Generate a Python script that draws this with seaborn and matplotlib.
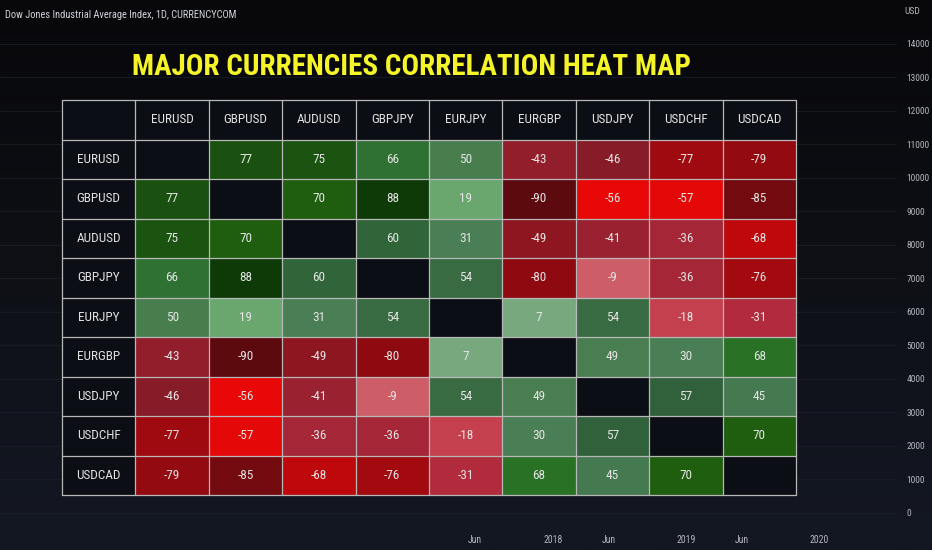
import numpy as np
import pandas as pd
import seaborn as sns
import matplotlib.pyplot as plt
from matplotlib import font_manager
from matplotlib.colors import LinearSegmentedColormap

# Currency pairs, same order for rows and columns
pairs = ['EURUSD', 'GBPUSD', 'AUDUSD', 'GBPJPY', 'EURJPY', 'EURGBP', 'USDJPY', 'USDCHF', 'USDCAD']

# Correlation values (diagonal left empty)
corr_rows = [
    [np.nan, 77, 75, 66, 50, -43, -46, -77, -79],
    [77, np.nan, 70, 88, 19, -90, -56, -57, -85],
    [75, 70, np.nan, 60, 31, -49, -41, -36, -68],
    [66, 88, 60, np.nan, 54, -80, -9, -36, -76],
    [50, 19, 31, 54, np.nan, 7, 54, -18, -31],
    [-43, -90, -49, -80, 7, np.nan, 49, 30, 68],
    [-46, -56, -41, -9, 54, 49, np.nan, 57, 45],
    [-77, -57, -36, -36, -18, 30, 57, np.nan, 70],
    [-79, -85, -68, -76, -31, 68, 45, 70, np.nan],
]

# Background price chart axis
price_ticks = list(range(0, 15000, 1000))
time_ticks = [0, 7, 12, 19, 24, 31]  # months counted from Jun 2017
time_labels = ['Jun', '2018', 'Jun', '2019', 'Jun', '2020']

chart_name = 'Dow Jones Industrial Average Index, 1D, CURRENCYCOM'
title = 'MAJOR CURRENCIES CORRELATION HEAT MAP'

sns.set_theme(style='dark')
available = {f.name for f in font_manager.fontManager.ttflist}
candidates = ['Liberation Sans Narrow', 'Roboto Condensed', 'Open Sans Condensed',
              'Noto Sans Condensed', 'Roboto', 'DejaVu Sans']
narrow = next(c for c in candidates if c in available or c == 'DejaVu Sans')
plt.rcParams['font.family'] = [narrow, 'DejaVu Sans']

fig = plt.figure(figsize=(9.32, 5.5), dpi=100)
fig.patch.set_facecolor('#131722')

# dark vertical gradient behind everything
ax_grad = fig.add_axes([0, 0, 1, 1], zorder=-2)
ax_grad.imshow(np.linspace(0, 1, 200).reshape(-1, 1), aspect='auto',
               cmap=LinearSegmentedColormap.from_list('bg', ['#08080b', '#0e1016', '#141823']))
ax_grad.axis('off')

# price pane with right hand axis and time axis
ax_bg = fig.add_axes([0, 1 - 528 / 550, 897 / 932, 528 / 550], zorder=-1)
ax_bg.set_facecolor('none')
ax_bg.set_ylim(-448, 15313)
ax_bg.set_xlim(-42.8, 38.0)
ax_bg.yaxis.tick_right()
ax_bg.set_yticks(price_ticks)
ax_bg.set_yticklabels([str(t) for t in price_ticks])
ax_bg.set_xticks(time_ticks)
ax_bg.set_xticklabels(time_labels)
ax_bg.tick_params(axis='y', length=0, pad=7, labelcolor='#b2b5be', labelsize=6.8)
ax_bg.tick_params(axis='x', length=0, pad=5, labelcolor='#b2b5be', labelsize=7)
ax_bg.grid(False)
for t in price_ticks:
    ax_bg.axhline(t, color='#1a1d27', lw=0.6, zorder=0)
for s in ax_bg.spines.values():
    s.set_visible(False)

fig.text(904 / 932, 1 - 12 / 550, 'USD', color='#b2b5be', fontsize=6.8, va='center', ha='left')
fig.text(5 / 932, 1 - 15 / 550, chart_name, color='#d1d4dc', fontsize=7.5, va='center', ha='left')

# colour ramp: dark red -> bright red -> pink | light green -> dark green
cmap = LinearSegmentedColormap.from_list('corr', [
    (0.00, '#4a080c'), (0.06, '#620a10'), (0.11, '#9c0a10'), (0.16, '#c0080c'),
    (0.22, '#e80808'), (0.26, '#801824'), (0.29, '#98202e'), (0.325, '#a8283a'),
    (0.375, '#c03040'), (0.425, '#c84856'), (0.475, '#d06c74'), (0.4999, '#d87880'),
    (0.5001, '#88b890'), (0.525, '#7aa880'), (0.595, '#6aa870'), (0.65, '#4a7e54'),
    (0.725, '#457a50'), (0.75, '#4a8050'), (0.785, '#30603a'), (0.83, '#2e7034'),
    (0.84, '#2c7a30'), (0.85, '#1e5e0e'), (0.885, '#1a5210'), (0.94, '#0e3a08'),
    (1.00, '#0a2c06'),
])

df = pd.DataFrame(corr_rows, index=pairs, columns=pairs)
n = len(pairs)

ax_t = fig.add_axes([62 / 932, 1 - 495 / 550, 734 / 932, 395 / 550])
sns.heatmap(df, mask=df.isna(), cmap=cmap, vmin=-100, vmax=100, annot=True, fmt='.0f',
            annot_kws={'color': '#e4e4e4', 'fontsize': 9.5}, cbar=False, ax=ax_t,
            xticklabels=False, yticklabels=False)
ax_t.set_facecolor('#0c0e15')
ax_t.set_xlim(-1, n)
ax_t.set_ylim(n, -1)
ax_t.set_xticks([])
ax_t.set_yticks([])

for j, name in enumerate(pairs):
    ax_t.text(j + 0.5, -0.5, name, color='#e0e0e0', fontsize=9.5, ha='center', va='center')
    ax_t.text(-0.5, j + 0.5, name, color='#e0e0e0', fontsize=9.5, ha='center', va='center')

for k in range(-1, n + 1):
    ax_t.axvline(k, color='#b8b8b8', lw=0.9, clip_on=False)
    ax_t.axhline(k, color='#b8b8b8', lw=0.9, clip_on=False)

fig.text(411 / 932, 1 - 67 / 550, title, color='#f4f428', fontsize=21, fontweight='bold',
         ha='center', va='center')

fig.savefig('out.png', dpi=100, facecolor=fig.get_facecolor())
